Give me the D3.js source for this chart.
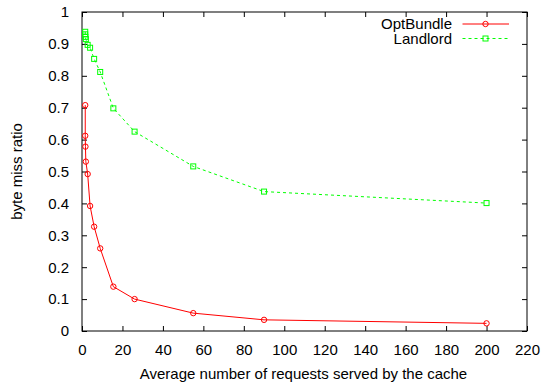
<!DOCTYPE html>
<html>
<head>
<meta charset="utf-8">
<title>byte miss ratio</title>
<script src="https://d3js.org/d3.v7.min.js"></script>
<style>
  body { margin: 0; background: #fff; overflow: hidden; }
  svg { display: block; }
  text { font-family: "Liberation Sans", Arial, sans-serif; font-size: 15px; fill: #000; }
</style>
</head>
<body>
<svg id="mainsvg" width="546" height="384"></svg>
<script>
// ---------- data ----------
const optX = [1.6, 1.6, 1.7, 1.9, 2.8, 4, 6, 9, 15.5, 26, 55, 90, 200];
const optY = [0.708, 0.612, 0.578, 0.531, 0.492, 0.392, 0.327, 0.259, 0.139, 0.1, 0.056, 0.035, 0.024];
const landX = [1.6, 1.6, 1.7, 1.9, 2.8, 4, 6, 9, 15.5, 26, 55, 90, 200];
const landY = [0.938, 0.93, 0.922, 0.915, 0.897, 0.888, 0.853, 0.812, 0.698, 0.625, 0.516, 0.437, 0.401];
const xTicks = [0, 20, 40, 60, 80, 100, 120, 140, 160, 180, 200, 220];
const yTicks = [0, 0.1, 0.2, 0.3, 0.4, 0.5, 0.6, 0.7, 0.8, 0.9, 1];
const seriesNames = ["OptBundle", "Landlord"];

// ---------- canvas ----------
const svg = d3.select("#mainsvg");
const margin = {top: 12, left: 82, right: 19, bottom: 53};
const width = +svg.attr("width"), height = +svg.attr("height");
const innerWidth = width - margin.left - margin.right;
const innerHeight = height - margin.top - margin.bottom;
const g = svg.append("g").attr("transform", `translate(${margin.left},${margin.top})`);

const x = d3.scaleLinear().domain([0, 220]).range([0, innerWidth]);
const y = d3.scaleLinear().domain([0, 1]).range([innerHeight, 0]);
const tickLen = 5;

// ticks on all four sides, pointing inward
const bottomAxis = d3.axisBottom(x).tickValues(xTicks).tickSizeInner(-tickLen).tickSizeOuter(0).tickPadding(13);
const topAxis = d3.axisTop(x).tickValues(xTicks).tickSizeInner(-tickLen).tickSizeOuter(0);
const leftAxis = d3.axisLeft(y).tickValues(yTicks).tickSizeInner(-tickLen).tickSizeOuter(0).tickPadding(13).tickFormat(d3.format("~g"));
const rightAxis = d3.axisRight(y).tickValues(yTicks).tickSizeInner(-tickLen).tickSizeOuter(0);

function styleAxis(sel) {
  sel.select(".domain").remove();
  sel.selectAll(".tick line").attr("stroke", "#000");
  sel.selectAll(".tick text").style("font-size", "15px").attr("fill", "#000");
}
// mirror axes carry tick marks only
function ticksOnly(sel) {
  sel.select(".domain").remove();
  sel.selectAll(".tick text").remove();
  sel.selectAll(".tick line").attr("stroke", "#000");
}
g.append("g").attr("transform", `translate(0,${innerHeight})`).call(bottomAxis).call(styleAxis);
g.append("g").call(topAxis).call(ticksOnly);
g.append("g").call(leftAxis).call(styleAxis);
g.append("g").attr("transform", `translate(${innerWidth},0)`).call(rightAxis).call(ticksOnly);

// frame
g.append("rect").attr("x", 0).attr("y", 0).attr("width", innerWidth).attr("height", innerHeight)
  .attr("fill", "none").attr("stroke", "#000").attr("stroke-width", 1);

// axis titles
g.append("text").attr("x", innerWidth / 2 - 1).attr("y", innerHeight + 48)
  .attr("text-anchor", "middle").text("Average number of requests served by the cache");
svg.append("text").attr("transform", `translate(22,${margin.top + innerHeight / 2}) rotate(-90)`)
  .attr("text-anchor", "middle").text("byte miss ratio");

// ---------- series ----------
const line = d3.line().x(d => x(d[0])).y(d => y(d[1]));
const optData = optX.map((v, i) => [v, optY[i]]);
const landData = landX.map((v, i) => [v, landY[i]]);

g.append("path").datum(landData).attr("d", line).attr("fill", "none")
  .attr("stroke", "#00ff00").attr("stroke-width", 1).attr("stroke-dasharray", "3,3");
g.selectAll(".land").data(landData).join("rect").attr("class", "land")
  .attr("x", d => x(d[0]) - 2.5).attr("y", d => y(d[1]) - 2.5)
  .attr("width", 5).attr("height", 5).attr("fill", "none").attr("stroke", "#00ff00");

g.append("path").datum(optData).attr("d", line).attr("fill", "none")
  .attr("stroke", "#ff0000").attr("stroke-width", 1);
g.selectAll(".opt").data(optData).join("circle").attr("class", "opt")
  .attr("cx", d => x(d[0])).attr("cy", d => y(d[1])).attr("r", 2.7)
  .attr("fill", "none").attr("stroke", "#ff0000");

// ---------- legend ----------
const legend = g.append("g").attr("transform", `translate(${innerWidth}, 0)`);
const legendRows = [
  {name: seriesNames[0], color: "#ff0000", dash: null, mark: "circle"},
  {name: seriesNames[1], color: "#00ff00", dash: "3,3", mark: "square"}
];
legendRows.forEach((r, i) => {
  const ly = 12 + i * 14.5;
  legend.append("text").attr("x", -75).attr("y", ly).attr("dy", "0.35em")
    .attr("text-anchor", "end").text(r.name);
  legend.append("line").attr("x1", -64.5).attr("x2", -18).attr("y1", ly).attr("y2", ly)
    .attr("stroke", r.color).attr("stroke-dasharray", r.dash);
  if (r.mark === "circle") {
    legend.append("circle").attr("cx", -41.5).attr("cy", ly).attr("r", 2.7)
      .attr("fill", "none").attr("stroke", r.color);
  } else {
    legend.append("rect").attr("x", -44).attr("y", ly - 2.5).attr("width", 5).attr("height", 5)
      .attr("fill", "none").attr("stroke", r.color);
  }
});
</script>
</body>
</html>
